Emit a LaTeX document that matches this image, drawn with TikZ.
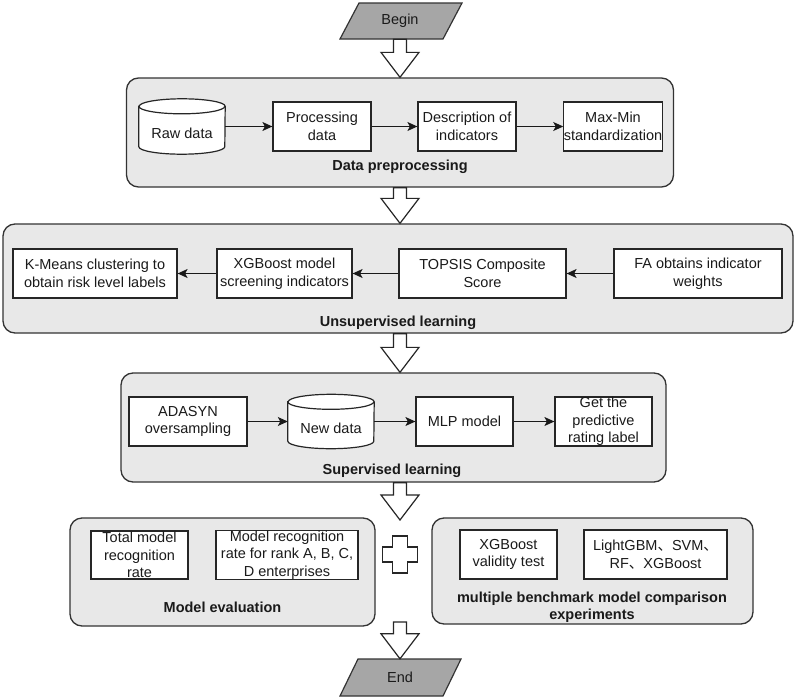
\documentclass[tikz,border=0pt]{standalone}
\usepackage{fontspec}
\setmainfont{Liberation Sans}
\newfontfamily\cjk{Noto Sans CJK SC}
\usetikzlibrary{arrows.meta,calc}
\definecolor{cfill}{RGB}{232,232,232}
\definecolor{cline}{RGB}{51,51,51}
\definecolor{tfill}{RGB}{166,166,166}
\definecolor{txt}{RGB}{26,26,26}
\newcommand{\hollowarrow}[2]{%
  \draw[hollow] ($(#1)+(-6.5,0)$) -- ($(#2)+(-6.5,-25)$) -- ($(#2)+(-19,-25)$) -- (#2)
    -- ($(#2)+(19,-25)$) -- ($(#2)+(6.5,-25)$) -- ($(#1)+(6.5,0)$) -- cycle;}
\newcommand{\cylinderat}[1]{%
  \draw[cylline, fill=white] ([yshift=-7.5pt]#1.north west) -- ([yshift=7.5pt]#1.south west)
    arc[start angle=180, end angle=360, x radius=43pt, y radius=7.5pt]
    -- ([yshift=-7.5pt]#1.north east)
    arc[start angle=0, end angle=180, x radius=43pt, y radius=7.5pt] -- cycle;
  \draw[cylline] ([yshift=-7.5pt]#1.north west)
    arc[start angle=180, end angle=360, x radius=43pt, y radius=7.5pt];}
\begin{document}
\begin{tikzpicture}[x=1pt,y=-1pt,
  every node/.style={font=\fontsize{14.5}{17.5}\selectfont, text=txt, inner sep=0pt, align=center},
  container/.style={draw=cline, fill=cfill, line width=1.3pt, rounded corners=12pt},
  box/.style={draw=black!85, fill=white, line width=1.2pt, minimum height=49pt},
  cylbody/.style={minimum width=86pt},
  cylline/.style={draw=black!85, line width=1.2pt},
  grp/.style={font=\bfseries\fontsize{14.5}{17.5}\selectfont},
  link/.style={-{Stealth[length=10pt,width=9pt,inset=2.5pt]}, line width=1.1pt, draw=black!90},
  hollow/.style={draw=black!85, fill=white, line width=1.2pt, line join=miter},
  term/.style={draw=black!80, fill=tfill, line width=1.2pt}
]
\fill[white] (0,0) rectangle (796,699);
\useasboundingbox (0,0) rectangle (796,699);

% Begin
\draw[term] (340,39) -- (359,3) -- (462,3) -- (443,39) -- cycle;
\node[minimum height=36pt] (begin) at (400,21) {Begin};

% containers
\node[container, minimum width=547pt, minimum height=109pt] (c1) at (400,132.5) {};
\node[container, minimum width=790pt, minimum height=109pt] (c2) at (398,278.5) {};
\node[container, minimum width=545pt, minimum height=109pt] (c3) at (393.5,427.5) {};
\node[container, minimum width=305pt, minimum height=108pt] (c4) at (222.5,572) {};
\node[container, minimum width=321pt, minimum height=106pt] (c5) at (592.5,571) {};

% block arrows
\coordinate (a1s) at (begin.south);
\coordinate (a1e) at (begin.south |- c1.north);
\hollowarrow{a1s}{a1e}
\coordinate (a2s) at (c1.south);
\coordinate (a2e) at (c1.south |- c2.north);
\hollowarrow{a2s}{a2e}
\coordinate (a3s) at (c1.south |- c2.south);
\coordinate (a3e) at (c1.south |- c3.north);
\hollowarrow{a3s}{a3e}
\coordinate (a4s) at (c1.south |- c3.south);
\coordinate (a4e) at (400,520);
\hollowarrow{a4s}{a4e}

% plus
\draw[hollow] (392.5,536) -- (407.5,536) -- (407.5,547) -- (417.5,547) -- (417.5,562) -- (407.5,562)
  -- (407.5,573) -- (392.5,573) -- (392.5,562) -- (382.5,562) -- (382.5,547) -- (392.5,547) -- cycle;

% End
\draw[term] (340,696) -- (358,659) -- (461,659) -- (443,696) -- cycle;
\node[minimum height=37pt] (end) at (400,677.5) {End};
\coordinate (a5s) at (400,622);
\coordinate (a5e) at (a5s |- end.north);
\hollowarrow{a5s}{a5e}

% Data preprocessing
\node[cylbody, minimum height=55pt] (raw) at (182,126.5) {};
\cylinderat{raw}
\node (rawtext) at ([yshift=-6.5pt]raw.center) {Raw data};
\node[box, minimum width=98pt] (proc) at (322,126.5) {Processing\\data};
\node[box, minimum width=98pt] (desc) at (467,126.5) {Description of\\indicators};
\node[box, minimum width=98pt] (maxmin) at (613,126.5) {Max-Min\\standardization};
\node[grp] (l1) at (400,167) {Data preprocessing};
\draw[link] (raw) -- (proc);
\draw[link] (proc) -- (desc);
\draw[link] (desc) -- (maxmin);

% Unsupervised learning
\node[box, minimum width=164pt] (kmeans) at (95,273.5) {K-Means clustering to\\obtain risk level labels};
\node[box, minimum width=135pt] (xgb) at (284.5,273.5) {XGBoost model\\screening indicators};
\node[box, minimum width=167pt] (topsis) at (482.5,273.5) {TOPSIS Composite\\Score};
\node[box, minimum width=168pt] (fa) at (698,273.5) {FA obtains indicator\\weights};
\node[grp] (l2) at (398,323) {Unsupervised learning};
\draw[link] (fa) -- (topsis);
\draw[link] (topsis) -- (xgb);
\draw[link] (xgb) -- (kmeans);

% Supervised learning
\node[box, minimum width=118pt] (adasyn) at (188,421.5) {ADASYN\\oversampling};
\node[cylbody, minimum height=54pt] (newd) at (331,421.5) {};
\cylinderat{newd}
\node (newdtext) at ([yshift=-6.5pt]newd.center) {New data};
\node[box, minimum width=97pt] (mlp) at (464.5,421.5) {MLP model};
\node[box, minimum width=97pt] (get) at (603.5,421.5) {Get the\\predictive\\rating label};
\node[grp] (l3) at (392,471) {Supervised learning};
\draw[link] (adasyn) -- (newd);
\draw[link] (newd) -- (mlp);
\draw[link] (mlp) -- (get);

% Model evaluation
\node[box, minimum width=97pt, minimum height=48pt] (total) at (139.5,555) {Total model\\recognition\\rate};
\node[box, minimum width=142pt, minimum height=48pt] (rank) at (287,555) {Model recognition\\rate for rank A, B, C,\\D enterprises};
\node[grp] (l4) at (222.5,607) {Model evaluation};

% Benchmark comparison
\node[box, minimum width=97pt] (xgbv) at (508.5,554.5) {XGBoost\\validity test};
\node[box, minimum width=143pt] (light) at (655.5,554.5) {LightGBM{\cjk 、}SVM{\cjk 、}\\RF{\cjk 、}XGBoost};
\node[grp] (l5) at (592,607) {multiple benchmark model comparison\\experiments};
\end{tikzpicture}
\end{document}
